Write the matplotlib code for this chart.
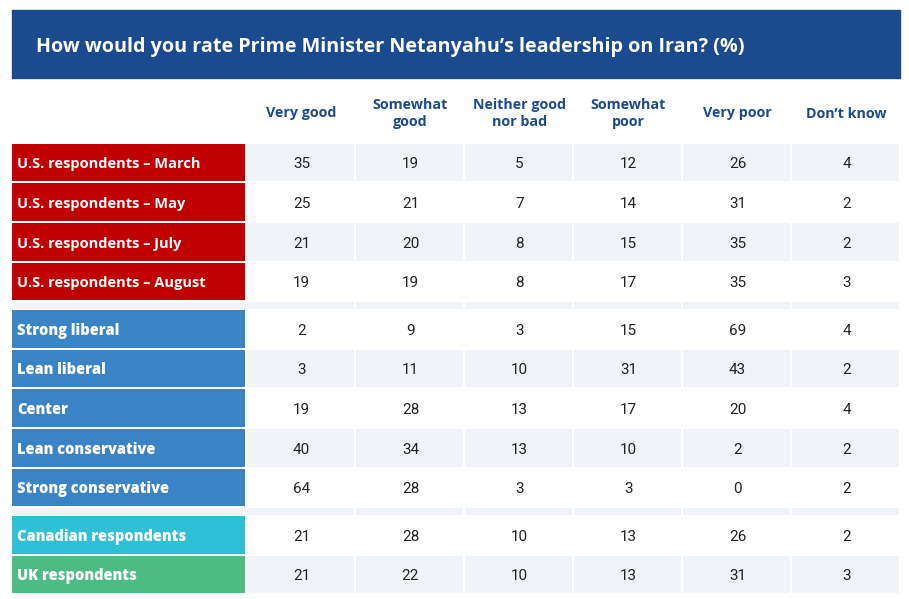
import matplotlib
matplotlib.use("Agg")
import matplotlib.pyplot as plt
from matplotlib.patches import Rectangle

title = "How would you rate Prime Minister Netanyahu\u2019s leadership on Iran? (%)"
columns = ["Very good", "Somewhat\ngood", "Neither good\nnor bad", "Somewhat\npoor", "Very poor", "Don\u2019t know"]

us_labels = ["U.S. respondents \u2013 March", "U.S. respondents \u2013 May",
             "U.S. respondents \u2013 July", "U.S. respondents \u2013 August"]
us_values = [[35, 19, 5, 12, 26, 4],
             [25, 21, 7, 14, 31, 2],
             [21, 20, 8, 15, 35, 2],
             [19, 19, 8, 17, 35, 3]]

ideo_labels = ["Strong liberal", "Lean liberal", "Center", "Lean conservative", "Strong conservative"]
ideo_values = [[2, 9, 3, 15, 69, 4],
               [3, 11, 10, 31, 43, 2],
               [19, 28, 13, 17, 20, 4],
               [40, 34, 13, 10, 2, 2],
               [64, 28, 3, 3, 0, 2]]

intl_labels = ["Canadian respondents", "UK respondents"]
intl_values = [[21, 28, 10, 13, 26, 2],
               [21, 22, 10, 13, 31, 3]]

navy = "#1c4a8f"
light = "#f0f3f8"
label_colors = {"us": "#c00000", "ideo": "#3a84c6", "can": "#2fc0d6", "uk": "#4fbb84"}

# build the row list, with None as a thin spacer row between groups
rows = []
for lab, vals in zip(us_labels, us_values):
    rows.append((lab, vals, label_colors["us"], "bold"))
rows.append(None)
for lab, vals in zip(ideo_labels, ideo_values):
    rows.append((lab, vals, label_colors["ideo"], "heavy"))
rows.append(None)
rows.append((intl_labels[0], intl_values[0], label_colors["can"], "heavy"))
rows.append((intl_labels[1], intl_values[1], label_colors["uk"], "heavy"))

W, H = 909, 599
fig = plt.figure(figsize=(W / 100, H / 100), dpi=100)
ax = fig.add_axes([0, 0, 1, 1])
ax.set_xlim(0, W)
ax.set_ylim(H, 0)
ax.axis("off")

# title banner
ax.add_patch(Rectangle((12, 10), 888, 68, color=navy))
ax.text(36, 47, title, color="white", fontsize=14.2, fontweight="bold",
        family="Open Sans", va="center", ha="left")

label_x0, label_x1 = 12, 245
col_x0 = 247
col_w = 109.0
row_h = 39.6
spacer_h = 8.0
gap = 2.0
text_dy = 1.8  # nudge so glyphs sit at the visual centre of the cell

# column headers
for j, c in enumerate(columns):
    cx = col_x0 + col_w * j + col_w / 2
    ax.text(cx, 113.5, c, color=navy, fontsize=10.3, fontweight="bold", family="Open Sans",
            ha="center", va="center", linespacing=1.2)

y = 143.8
stripe = 0
for r in rows:
    if r is None:
        ax.add_patch(Rectangle((label_x0, y + 0.2), label_x1 - label_x0, spacer_h - 1.2, color=light, lw=0))
        for j in range(len(columns)):
            ax.add_patch(Rectangle((col_x0 + col_w * j, y + 0.2), col_w - gap, spacer_h - 1.2, color=light, lw=0))
        y += spacer_h
        stripe = 1
        continue
    lab, vals, col, wt = r
    ax.add_patch(Rectangle((label_x0, y), label_x1 - label_x0, row_h - gap, color=col, lw=0))
    ax.text(label_x0 + 5, y + (row_h - gap) / 2 + text_dy, lab, color="white", fontsize=10.5,
            fontweight=wt, family="Open Sans", ha="left", va="center")
    bg = light if stripe % 2 == 0 else "white"
    for j, v in enumerate(vals):
        x = col_x0 + col_w * j
        ax.add_patch(Rectangle((x, y), col_w - gap, row_h - gap, color=bg, lw=0))
        ax.text(x + col_w / 2, y + (row_h - gap) / 2 + text_dy, str(v), color="#222222", fontsize=11,
                family="Roboto", ha="center", va="center")
    y += row_h
    stripe += 1

fig.savefig("out.png", dpi=100)
